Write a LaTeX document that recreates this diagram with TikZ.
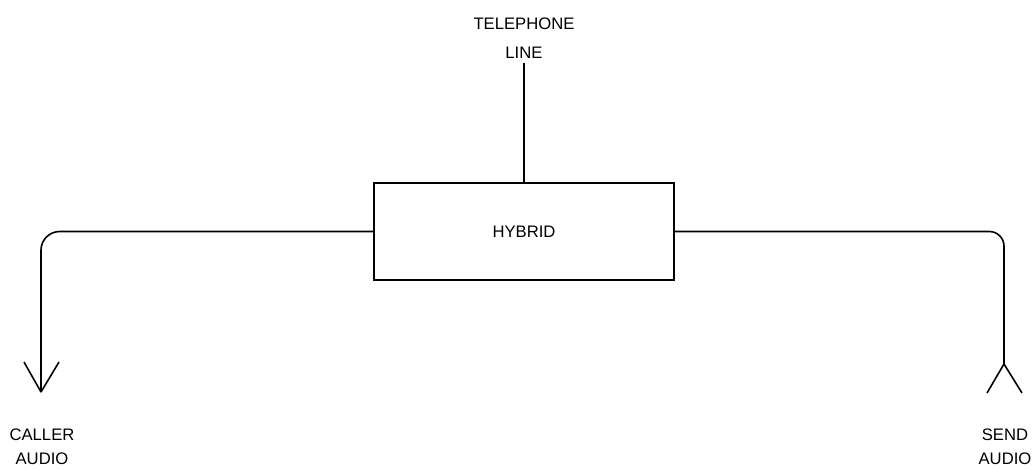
\documentclass[tikz,border=0pt]{standalone}
\usepackage{fontspec}
\setmainfont{Liberation Sans}
\begin{document}
\begin{tikzpicture}[x=0.75pt,y=-0.75pt,line width=1.2pt]
    \useasboundingbox (0,0) rectangle (1034,468);
    \tikzset{lbl/.style={font=\fontsize{12.5}{18}\selectfont, align=center, inner sep=0pt}}

    % Hybrid box
    \node[draw, minimum width=225pt, minimum height=72.75pt, font=\fontsize{12.5}{14}\selectfont] (hybrid) at (524,231.5) {HYBRID};

    % Telephone line
    \node[lbl, font=\fontsize{12.5}{21.5}\selectfont] (tel) at (524,38) {TELEPHONE\\LINE};
    \draw (tel.south) ++(0,4) coordinate (telend);
    \draw (telend) -- (hybrid.north);

    % Caller audio (out)
    \coordinate (callend) at (41,392);
    \draw[rounded corners=14pt] (hybrid.west) -| (callend);
    \draw (callend) -- ++(-17,-30);
    \draw (callend) -- ++(18,-30);
    \node[lbl] (caller) at (42,447) {CALLER\\AUDIO};

    % Send audio (in)
    \coordinate (sendend) at (1004,364);
    \draw[rounded corners=11pt] (hybrid.east) -| (sendend);
    \draw (sendend) -- ++(-17,29);
    \draw (sendend) -- ++(18,29);
    \node[lbl] (send) at (1005,447) {SEND\\AUDIO};
\end{tikzpicture}
\end{document}
